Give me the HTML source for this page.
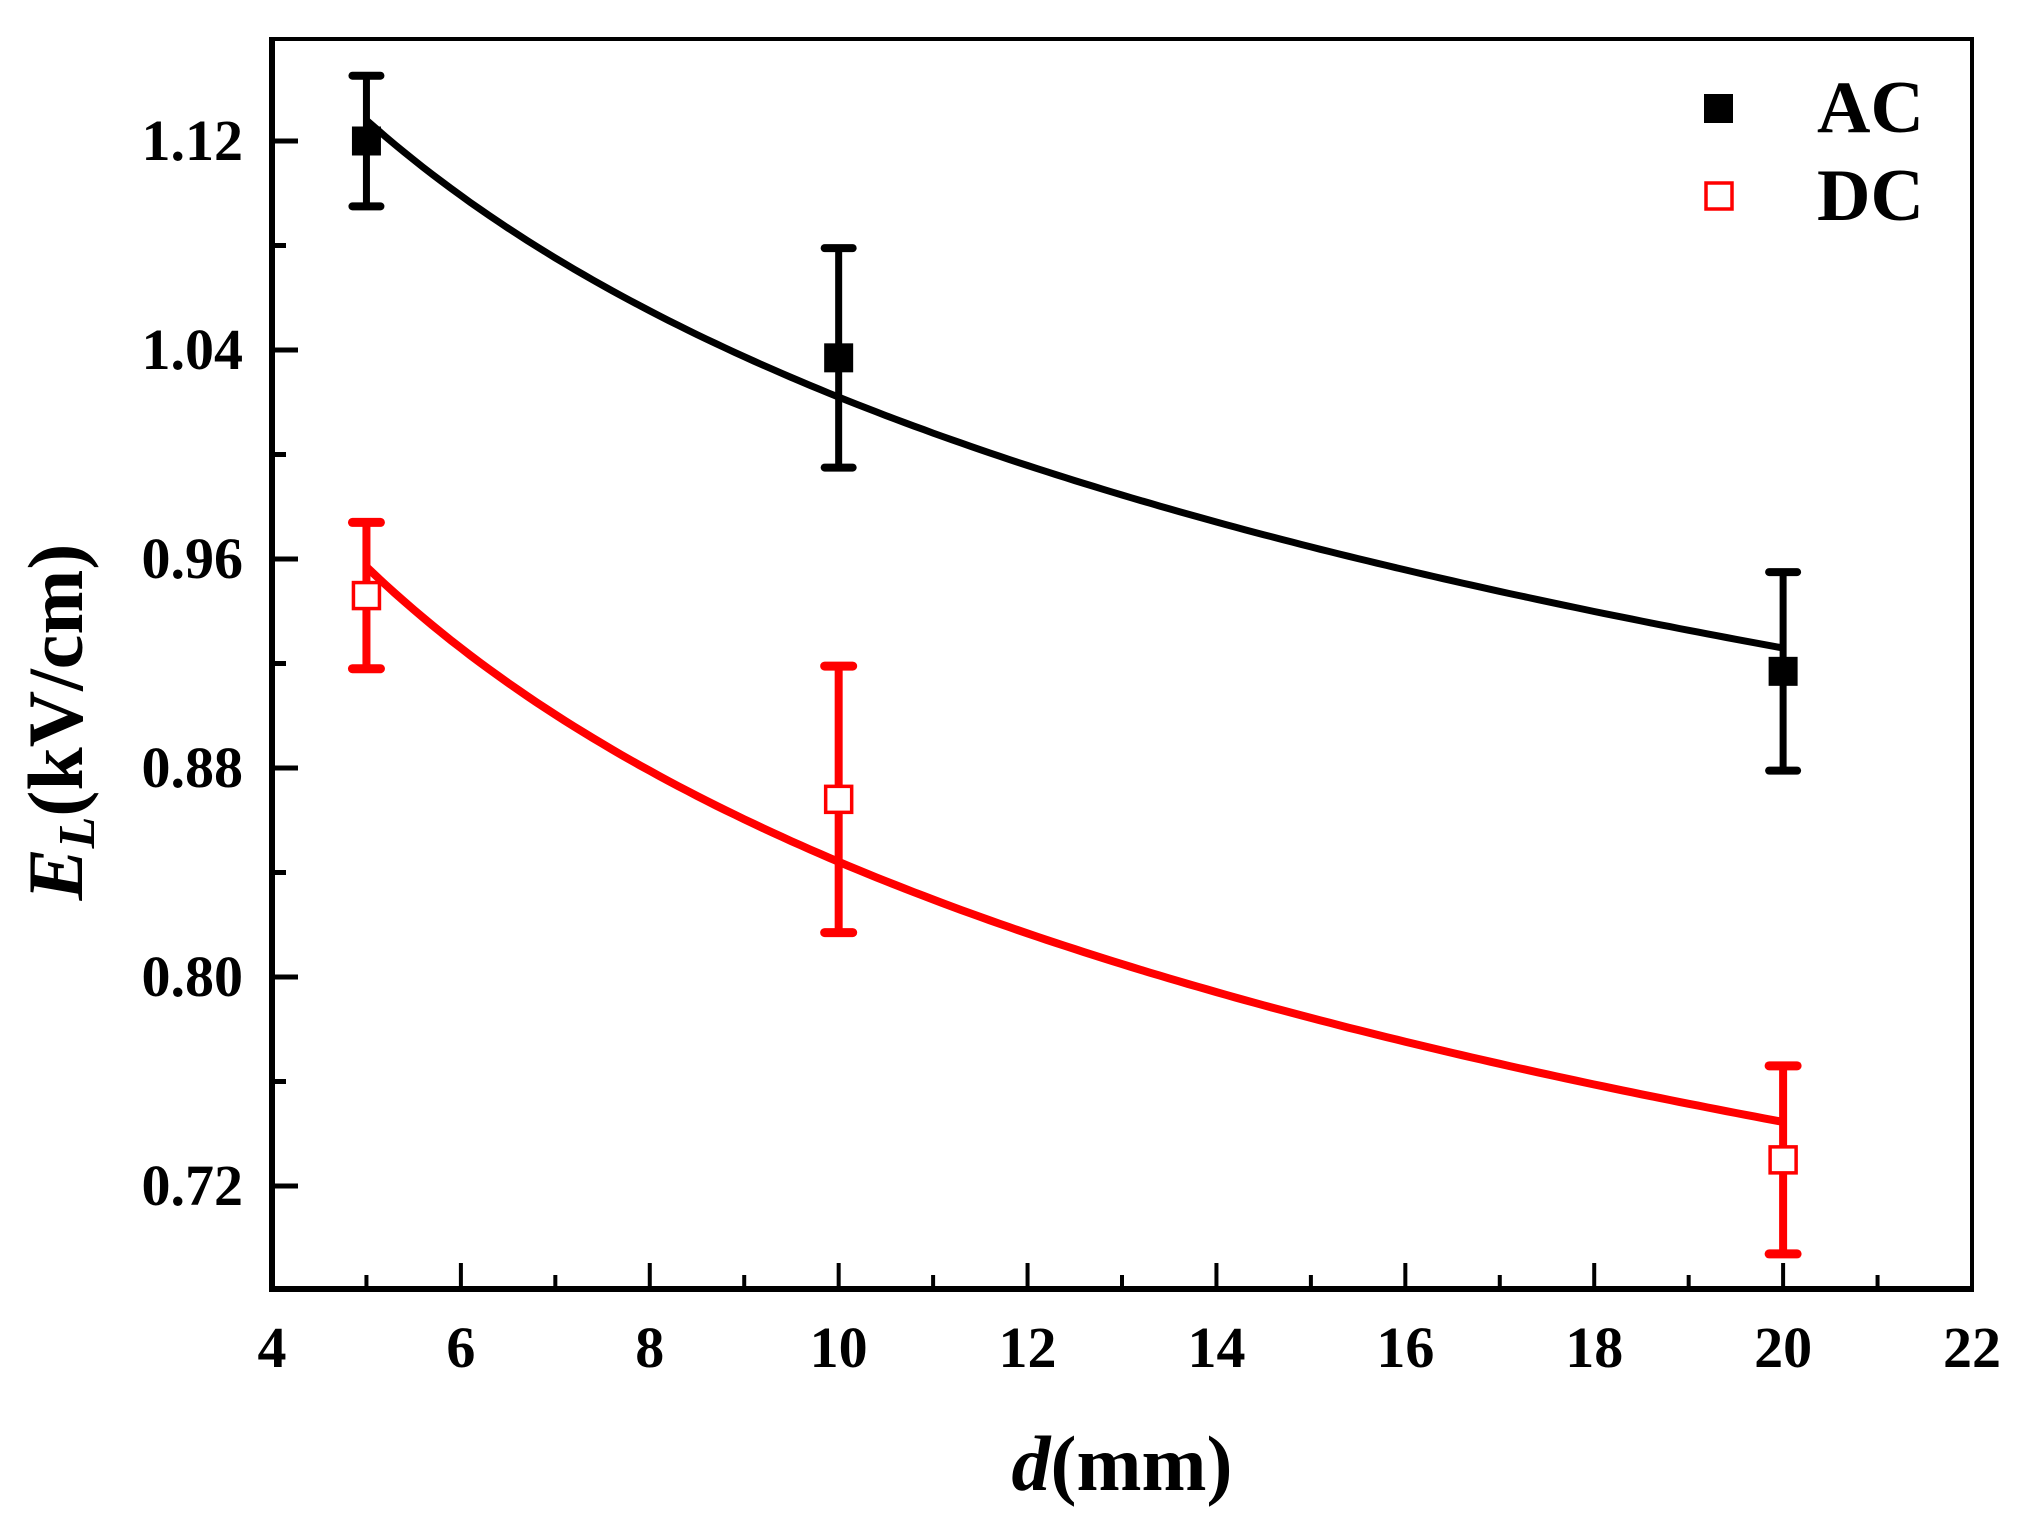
<!DOCTYPE html>
<html><head><meta charset="utf-8"><style>
html,body{margin:0;padding:0;background:#fff;}
svg{display:block;}
svg text{font-family:"Liberation Serif","Times New Roman",serif;font-weight:bold;}
</style></head><body>
<svg id="chart" width="2030" height="1536" viewBox="0 0 2030 1536" xmlns="http://www.w3.org/2000/svg" font-family="Liberation Serif, serif" font-weight="bold">
<g id="plot"></g>
<text x="1122" y="1490" font-size="78" text-anchor="middle" font-family="Liberation Serif, serif"><tspan font-style="italic">d</tspan>(mm)</text>
<text transform="translate(82,722) rotate(-90)" font-size="78" text-anchor="middle" font-family="Liberation Serif, serif"><tspan font-style="italic">E</tspan><tspan font-style="italic" font-size="52" dy="12">L</tspan><tspan dy="-12">(kV/cm)</tspan></text>
<g>
<rect x="1704" y="94" width="29" height="29" fill="#000"/>
<text x="1817" y="132" font-size="74" font-family="Liberation Serif, serif">AC</text>
<rect x="1706" y="183" width="26" height="26" fill="#fff" stroke="#f00" stroke-width="3.5"/>
<text x="1817" y="220" font-size="74" font-family="Liberation Serif, serif">DC</text>
</g>
</svg>
<script>
const xVals = [5, 10, 20];
const acVals = [1.120, 1.037, 0.917];
const acErr = [0.025, 0.042, 0.038];
const dcVals = [0.946, 0.868, 0.730];
const dcErr = [0.028, 0.051, 0.036];
const acFit = [1.128, -0.1424];
const dcFit = [0.957, -0.1811];
const xTicks = [4, 6, 8, 10, 12, 14, 16, 18, 20, 22];
const yTicks = [0.72, 0.80, 0.88, 0.96, 1.04, 1.12];

const L=272, R=1972, T=39, B=1289;
const X = v => L + (v-4)/18*(R-L);
const Y = v => 141 + (1.12-v)*2612.5;
const NS="http://www.w3.org/2000/svg";
const g=document.getElementById('plot');
function mk(tag, attrs){const e=document.createElementNS(NS,tag);for(const k in attrs)e.setAttribute(k,attrs[k]);g.appendChild(e);return e;}

let e=mk('rect',{x:L,y:T,width:R-L,height:B-T,fill:'none',stroke:'#000','stroke-width':4});


e=mk('line',{x1:L,y1:T-2,x2:L,y2:B+3,stroke:'#000','stroke-width':6});


e=mk('line',{x1:L-3,y1:B,x2:R+2,y2:B,stroke:'#000','stroke-width':6});



for(let v=5; v<=21; v++){
  const major = v%2===0;
  e=mk('line',{x1:X(v),y1:B,x2:X(v),y2:B-(major?26:14),stroke:'#000','stroke-width':4});
  
  
}
xTicks.forEach(v=>{
  e=mk('text',{x:X(v),y:1367,'font-size':58,'text-anchor':'middle','font-family':'Liberation Serif, serif','font-weight':'bold'});
  e.textContent=String(v);
  
  
});
for(let i=0;i<12;i++){
  const v=0.72+i*0.04;
  if(Y(v)<T+5) continue;
  const major=i%2===0;
  e=mk('line',{x1:L,y1:Y(v),x2:L+(major?26:14),y2:Y(v),stroke:'#000','stroke-width':5});
  
  
}
yTicks.forEach(v=>{
  e=mk('text',{x:243,y:Y(v)+19,'font-size':58,'text-anchor':'end','font-family':'Liberation Serif, serif','font-weight':'bold'});
  e.textContent=v.toFixed(2);
  
  
});

function curve(fit,color,w,name){
  let d='';
  for(let x=5;x<=20.0001;x+=0.1){
    const y=fit[0]*Math.pow(x/5,fit[1]);
    d+=(d?'L':'M')+X(x).toFixed(1)+','+Y(y).toFixed(1);
  }
  const p=mk('path',{d:d,fill:'none',stroke:color,'stroke-width':w});
  
  
}
curve(acFit,'#000',7,'ac-fit-curve');
curve(dcFit,'#f00',8,'dc-fit-curve');

function series(vals,errs,color,filled,w,prefix){
  vals.forEach((v,i)=>{
    const x=X(xVals[i]), yc=Y(v), yt=Y(v+errs[i]), yb=Y(v-errs[i]);
    e=mk('line',{x1:x,y1:yt,x2:x,y2:yb,stroke:color,'stroke-width':w});
    
    
    [yt,yb].forEach(yy=>{
      e=mk('line',{x1:x-14,y1:yy,x2:x+14,y2:yy,stroke:color,'stroke-width':w+1,'stroke-linecap':'round'});
      
      
    });
    if(filled){
      e=mk('rect',{x:x-14.5,y:yc-14.5,width:29,height:29,fill:color});
    } else {
      e=mk('rect',{x:x-13,y:yc-13,width:26,height:26,fill:'#fff',stroke:color,'stroke-width':3.5});
    }
    
    
  });
}
series(acVals,acErr,'#000',true,7,'ac');
series(dcVals,dcErr,'#f00',false,8,'dc');
</script>
</body></html>
